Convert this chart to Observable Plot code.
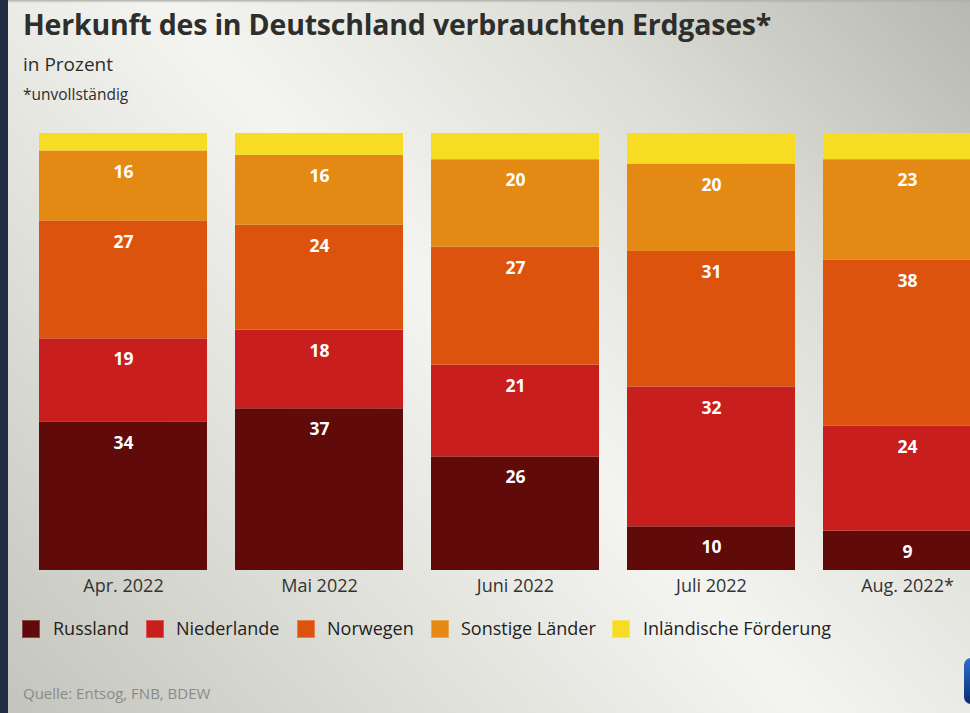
<!DOCTYPE html>
<html>
<head>
<meta charset="utf-8">
<script src="https://cdn.jsdelivr.net/npm/d3@7"></script>
<script src="https://cdn.jsdelivr.net/npm/@observablehq/plot@0.6"></script>
<style>
  html, body { margin: 0; padding: 0; width: 970px; height: 713px; overflow: hidden; }
  body {
    font-family: "Open Sans", sans-serif;
    background: linear-gradient(48deg, #c3c4bc 0%, #dcddd6 25%, #f4f5f1 50%, #dcddd6 75%, #b7b8b0 100%);
    position: relative;
  }
  #stripe { position: absolute; left: 0; top: 0; width: 8px; height: 713px; background: #212b42; }
  #topshade { position: absolute; left: 8px; top: 0; right: 0; height: 3px; background: linear-gradient(#b0b0aa, rgba(0,0,0,0)); }
  .t { position: absolute; left: 23px; color: #2e2e2c; white-space: nowrap; }
  #title { top: 5px; font-size: 28.5px; font-weight: 700; letter-spacing: -0.2px; }
  #sub { top: 51px; font-size: 19px; }
  #note { top: 83px; font-size: 15.5px; }
  #chart { position: absolute; left: 0; top: 0; }
  #legend { position: absolute; top: 618px; left: 0; font-size: 18px; color: #222; }
  .li { position: absolute; white-space: nowrap; }
  .sw { position: absolute; top: 2px; width: 18px; height: 18px; }
  .lt { position: absolute; top: -2px; }
  #source { position: absolute; left: 23px; top: 683px; font-size: 15px; color: #8a8a88; }
  #logo { position: absolute; left: 964px; top: 658px; width: 30px; height: 46px; border-radius: 7px;
          background: linear-gradient(#2a6fd0, #0a2d6e); }
</style>
</head>
<body>
<div id="stripe"></div>
<div id="topshade"></div>
<div class="t" id="title">Herkunft des in Deutschland verbrauchten Erdgases*</div>
<div class="t" id="sub">in Prozent</div>
<div class="t" id="note">*unvollständig</div>
<div id="chart"></div>
<div id="legend"></div>
<div id="source">Quelle: Entsog, FNB, BDEW</div>
<div id="logo"></div>
<script>
const months = ["Apr. 2022", "Mai 2022", "Juni 2022", "Juli 2022", "Aug. 2022*"];
const seriesNames = ["Russland", "Niederlande", "Norwegen", "Sonstige Länder", "Inländische Förderung"];
const russland    = [34, 37, 26, 10, 9];
const niederlande = [19, 18, 21, 32, 24];
const norwegen    = [27, 24, 27, 31, 38];
const sonstige    = [16, 16, 20, 20, 23];
const inland      = [4, 5, 6, 7, 6];
const colors = ["#600a0a", "#c81e1e", "#dc530e", "#e48a14", "#f6dc23"];

const seriesValues = [russland, niederlande, norwegen, sonstige, inland];
const data = [];
months.forEach((m, i) => {
  seriesNames.forEach((s, j) => data.push({month: m, series: s, value: seriesValues[j][i]}));
});

const chart = Plot.plot({
  width: 970,
  height: 713,
  marginTop: 133,
  marginBottom: 143,
  marginLeft: 0,
  marginRight: 0,
  style: {background: "transparent", overflow: "hidden"},
  x: {domain: months, range: [25, 1005], paddingInner: 28 / 196, paddingOuter: 14 / 196, label: null},
  y: {domain: [0, 100], axis: null},
  color: {domain: seriesNames, range: colors},
  marks: [
    Plot.barY(data, Plot.stackY({x: "month", y: "value", z: "series", fill: "series", order: null})),
    Plot.text(data, Plot.stackY2({
      x: "month", y: "value", z: "series", order: null,
      text: d => d.series === "Inländische Förderung" ? "" : String(d.value),
      dy: 21, fill: "white", fontWeight: 700, fontSize: 17.5, fontFamily: "Open Sans"
    })),
    Plot.axisX({tickSize: 0, tickPadding: 9, fontSize: 18, fill: "#333", fontFamily: "Open Sans", label: null})
  ]
});
document.getElementById("chart").appendChild(chart);

const legendPos = [[22, 53], [146, 176], [297, 327], [431, 461], [612, 643]];
const legend = document.getElementById("legend");
seriesNames.forEach((s, j) => {
  const sw = document.createElement("div");
  sw.className = "sw";
  sw.style.left = legendPos[j][0] + "px";
  sw.style.background = colors[j];
  sw.style.boxShadow = "inset 0 0 0 1px rgba(255,255,255,0.25)";
  legend.appendChild(sw);
  const lt = document.createElement("div");
  lt.className = "li lt";
  lt.style.left = legendPos[j][1] + "px";
  lt.textContent = s;
  legend.appendChild(lt);
});
</script>
</body>
</html>
